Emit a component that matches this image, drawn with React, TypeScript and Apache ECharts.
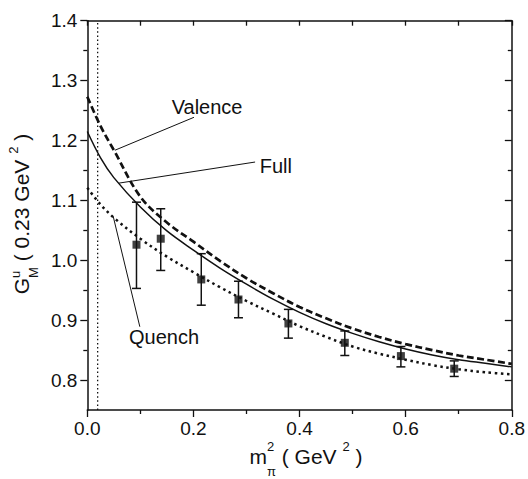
import React, { useEffect, useRef } from "react";
import * as echarts from "echarts";

// ---- data ----
const curveX = [0, 0.025, 0.05, 0.1, 0.15, 0.2, 0.25, 0.3, 0.35, 0.4, 0.45, 0.5, 0.55, 0.6, 0.65, 0.7, 0.75, 0.8];
const fullY = [1.215, 1.171, 1.138, 1.089, 1.049, 1.017, 0.987, 0.96, 0.935, 0.913, 0.894, 0.878, 0.864, 0.852, 0.842, 0.834, 0.828, 0.822];
const valenceY = [1.273, 1.224, 1.184, 1.106, 1.063, 1.031, 0.999, 0.97, 0.945, 0.922, 0.903, 0.886, 0.872, 0.86, 0.85, 0.841, 0.834, 0.827];
const quenchY = [1.121, 1.093, 1.071, 1.036, 1.006, 0.98, 0.955, 0.932, 0.911, 0.89, 0.872, 0.856, 0.844, 0.834, 0.825, 0.818, 0.813, 0.8095];

const latticeX = [0.0927, 0.1384, 0.2148, 0.2849, 0.379, 0.4853, 0.591, 0.6915];
const latticeY = [1.026, 1.036, 0.968, 0.9345, 0.8945, 0.8622, 0.84, 0.819];
const latticeLow = [0.953, 0.983, 0.925, 0.904, 0.87, 0.841, 0.822, 0.806];
const latticeHigh = [1.097, 1.086, 1.011, 0.965, 0.918, 0.882, 0.856, 0.832];

const physicalPoint = 0.0195;

const xTicks = [0, 0.2, 0.4, 0.6, 0.8];
const yTicks = [0.8, 0.9, 1.0, 1.1, 1.2, 1.3, 1.4];
const yMinorTicks = [0.85, 0.95, 1.05, 1.15, 1.25, 1.35];

const annotationLabels = ["Valence", "Full", "Quench"];
const annotationTextPos = [[0.2257, 1.2562], [0.3553, 1.1567], [0.1446, 0.8723]];
const annotationLines = [
  [0.201, 1.2387, 0.052, 1.1837],
  [0.3162, 1.164, 0.0595, 1.1288],
  [0.0488, 1.0733, 0.099, 0.889],
];

const FONT = '"Liberation Sans", Arial, Helvetica, sans-serif';
const INK = "#111";

type Piece = { text: string; size: number; dy: number; gap?: number; stack?: boolean };

function measure(text: string, size: number): number {
  const c = document.createElement("canvas").getContext("2d");
  if (!c) return text.length * size * 0.55;
  c.font = `${size}px "Liberation Sans"`;
  return c.measureText(text).width;
}

function layout(pieces: Piece[]) {
  let cursor = 0;
  let prevStart = 0;
  const out: any[] = [];
  for (const p of pieces) {
    const w = measure(p.text, p.size);
    let start: number;
    if (p.stack) {
      start = prevStart;
      cursor = Math.max(cursor, start + w);
    } else {
      start = cursor + (p.gap || 0) * measure(" ", 21);
      cursor = start + w;
    }
    prevStart = start;
    out.push({
      type: "text",
      x: start,
      y: p.dy - 0.3465 * p.size,
      style: {
        text: p.text,
        fontSize: p.size,
        fontFamily: FONT,
        fill: INK,
        textAlign: "left",
        textVerticalAlign: "middle",
        verticalAlign: "middle",
      },
    });
  }
  return { children: out, width: cursor };
}

export default function App() {
  const ref = useRef<HTMLDivElement>(null);

  useEffect(() => {
    if (!ref.current) return;
    const chart = echarts.init(ref.current, undefined, { renderer: "svg" });

    const xTitle = layout([
      { text: "m", size: 21, dy: 0 },
      { text: "π", size: 13, dy: 12 },
      { text: "2", size: 13, dy: -13, stack: true },
      { text: "( GeV", size: 21, dy: 0, gap: 1 },
      { text: "2", size: 13, dy: -13, gap: 1 },
      { text: ")", size: 21, dy: 0, gap: 1 },
    ]);
    const yTitle = layout([
      { text: "G", size: 21, dy: 0 },
      { text: "M", size: 13, dy: 9.5 },
      { text: "u", size: 13, dy: -8.5, stack: true },
      { text: "( 0.23 GeV", size: 21, dy: 0, gap: 1 },
      { text: "2", size: 13, dy: -10, gap: 1 },
      { text: ")", size: 21, dy: 0, gap: 1 },
    ]);

    const axisLine = { show: true, lineStyle: { color: INK, width: 1.5 } };
    const tickStyle = { color: INK, width: 1.3 };
    const labelStyle = { color: INK, fontSize: 19, fontFamily: FONT };

    const line = (name: string, ys: number[], lineStyle: any) => ({
      name,
      type: "line",
      xAxisIndex: 0,
      yAxisIndex: 0,
      data: curveX.map((x, i) => [x, ys[i]]),
      showSymbol: false,
      symbol: "none",
      smooth: 0.35,
      lineStyle: { color: INK, ...lineStyle },
      z: 3,
    });

    chart.setOption({
      animation: false,
      grid: { left: 87.3, right: 14.7, top: 20.7, bottom: 69, containLabel: false },
      xAxis: [
        {
          type: "value",
          min: 0,
          max: 0.8,
          interval: 0.2,
          position: "bottom",
          axisLine,
          axisTick: { show: true, inside: false, length: 7, lineStyle: tickStyle },
          minorTick: { show: true, splitNumber: 2, length: 4, lineStyle: tickStyle },
          axisLabel: { ...labelStyle, margin: 9, formatter: (v: number) => v.toFixed(1) },
          splitLine: { show: false },
          minorSplitLine: { show: false },
        },
        {
          type: "value",
          min: 0,
          max: 0.8,
          interval: 0.2,
          position: "top",
          axisLine,
          axisTick: { show: true, inside: true, length: 5, lineStyle: tickStyle },
          minorTick: { show: true, splitNumber: 2, length: 5, lineStyle: tickStyle },
          axisLabel: { show: false },
          splitLine: { show: false },
        },
      ],
      yAxis: [
        {
          type: "value",
          min: 0.75,
          max: 1.4,
          position: "left",
          axisLine,
          axisTick: { show: true, inside: false, length: 7, lineStyle: tickStyle, customValues: yTicks },
          axisLabel: { ...labelStyle, margin: 10, customValues: yTicks, formatter: (v: number) => v.toFixed(1) },
          splitLine: { show: false },
        },
        {
          type: "value",
          min: 0.75,
          max: 1.4,
          position: "left",
          axisLine: { show: false },
          axisTick: { show: true, inside: false, length: 4, lineStyle: tickStyle, customValues: yMinorTicks },
          axisLabel: { show: false },
          splitLine: { show: false },
        },
        {
          type: "value",
          min: 0.75,
          max: 1.4,
          position: "right",
          axisLine,
          axisTick: { show: true, inside: true, length: 7, lineStyle: tickStyle, customValues: yTicks },
          axisLabel: { show: false },
          splitLine: { show: false },
        },
        {
          type: "value",
          min: 0.75,
          max: 1.4,
          position: "right",
          axisLine: { show: false },
          axisTick: { show: true, inside: true, length: 4, lineStyle: tickStyle, customValues: yMinorTicks },
          axisLabel: { show: false },
          splitLine: { show: false },
        },
      ],
      series: [
        {
          name: "physical",
          type: "line",
          xAxisIndex: 0,
          yAxisIndex: 0,
          data: [[physicalPoint, 0.75], [physicalPoint, 1.4]],
          showSymbol: false,
          symbol: "none",
          lineStyle: { color: INK, width: 1.3, type: [1.5, 2.6] },
          z: 2,
        },
        line("Full", fullY, { width: 1.5, type: "solid" }),
        line("Valence", valenceY, { width: 2.7, type: [7, 3.5] }),
        line("Quench", quenchY, { width: 2.5, type: [2.5, 3.6] }),
        {
          name: "errors",
          type: "custom",
          xAxisIndex: 0,
          yAxisIndex: 0,
          data: latticeX.map((x, i) => [x, latticeLow[i], latticeHigh[i]]),
          encode: { x: 0, y: [1, 2] },
          renderItem: (params: any, api: any) => {
            const x = api.value(0);
            const lo = api.coord([x, api.value(1)]);
            const hi = api.coord([x, api.value(2)]);
            const hw = 4.5;
            const st = { stroke: INK, lineWidth: 1.5 };
            return {
              type: "group",
              children: [
                { type: "line", shape: { x1: hi[0], y1: hi[1], x2: lo[0], y2: lo[1] }, style: st },
                { type: "line", shape: { x1: hi[0] - hw, y1: hi[1], x2: hi[0] + hw, y2: hi[1] }, style: st },
                { type: "line", shape: { x1: lo[0] - hw, y1: lo[1], x2: lo[0] + hw, y2: lo[1] }, style: st },
              ],
            };
          },
          z: 4,
        },
        {
          name: "lattice",
          type: "scatter",
          xAxisIndex: 0,
          yAxisIndex: 0,
          data: latticeX.map((x, i) => [x, latticeY[i]]),
          symbol: "rect",
          symbolSize: 8,
          itemStyle: { color: INK },
          z: 5,
        },
        {
          name: "pointers",
          type: "custom",
          xAxisIndex: 0,
          yAxisIndex: 0,
          data: annotationLines,
          renderItem: (params: any, api: any) => {
            const a = api.coord([api.value(0), api.value(1)]);
            const b = api.coord([api.value(2), api.value(3)]);
            return {
              type: "line",
              shape: { x1: a[0], y1: a[1], x2: b[0], y2: b[1] },
              style: { stroke: INK, lineWidth: 1 },
            };
          },
          z: 6,
        },
        {
          name: "labels",
          type: "custom",
          xAxisIndex: 0,
          yAxisIndex: 0,
          data: annotationTextPos.map((p, i) => [p[0], p[1], i]),
          renderItem: (params: any, api: any) => {
            const p = api.coord([api.value(0), api.value(1)]);
            return {
              type: "text",
              x: p[0],
              y: p[1],
              style: {
                text: annotationLabels[params.dataIndex],
                fontSize: 20,
                fontFamily: FONT,
                fill: INK,
                textAlign: "center",
                textVerticalAlign: "middle",
                verticalAlign: "middle",
              },
            };
          },
          z: 7,
        },
      ],
      graphic: [
        { type: "group", x: 306 - xTitle.width / 2, y: 464, children: xTitle.children },
        {
          type: "group",
          x: 28.5,
          y: 214 + yTitle.width / 2,
          rotation: Math.PI / 2,
          children: yTitle.children,
        },
      ],
    });

    return () => chart.dispose();
  }, []);

  return (
    <div
      ref={ref}
      style={{ position: "absolute", left: 0, top: 0, width: 528, height: 479, background: "#fff" }}
    />
  );
}
